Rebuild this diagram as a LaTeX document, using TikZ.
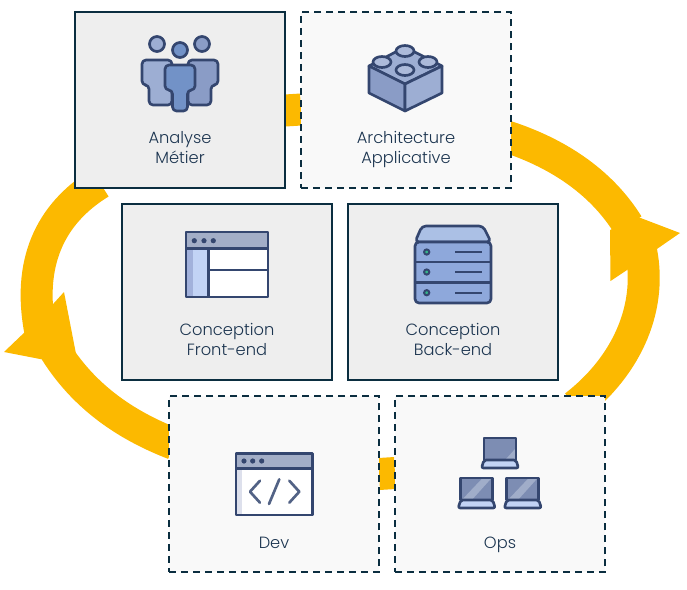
\documentclass[tikz,border=0pt]{standalone}
\usepackage{fontspec}
\setmainfont{Poppins}[UprightFont=* Light]
\usetikzlibrary{
  positioning,
  backgrounds
}
\definecolor{ringyellow}{HTML}{FCB900}
\definecolor{boxline}{HTML}{0B2E40}
\definecolor{boxsolid}{HTML}{EEEEEE}
\definecolor{boxdash}{HTML}{F9F9F9}
\definecolor{iconline}{HTML}{34466F}
\definecolor{labelink}{HTML}{1C3550}
\definecolor{personleft}{HTML}{9DAED3}
\definecolor{personright}{HTML}{8A9CC6}
\definecolor{personmid}{HTML}{7292C7}
\definecolor{barfill}{HTML}{A3AEC7}
\definecolor{sidefill}{HTML}{C2D3F5}
\definecolor{sidedark}{HTML}{A2B1DB}
\definecolor{rackfill}{HTML}{8EA8DB}
\definecolor{racktop}{HTML}{ABC0E5}
\definecolor{screenfill}{HTML}{7D8DB3}
\definecolor{glarefill}{HTML}{A0ADC9}
\definecolor{stripefill}{HTML}{DDE0EC}
\definecolor{ledgreen}{HTML}{35B58A}
\tikzset{
  x=0.75pt,
  y=-0.75pt,
  node distance=12pt,
  phasebox/.style={rectangle, outer sep=0pt, minimum width=157.5pt, minimum height=132pt,
    draw=boxline, line width=1.5pt},
  solidbox/.style={phasebox, fill=boxsolid},
  dashbox/.style={phasebox, fill=boxdash, dash pattern=on 5.6pt off 3.4pt},
  phaselabel/.style={align=center, text=labelink, inner sep=0pt, font=\fontsize{12.2}{15}\selectfont,
    execute at begin node={\strut}, execute at end node={\strut}},
  ringband/.style={draw=ringyellow, line width=24pt},
  ringhead/.style={fill=ringyellow},
  iconstroke/.style={draw=iconline, line width=2pt, line join=round},
  iconsoft/.style={iconstroke, rounded corners=3pt},
  pics/people/.style={code={
    \draw[iconsoft, fill=personleft] (-38,-40) -- (-8,-40) -- (-8,5) -- (-31,5) -- (-31,-15) -- (-38,-15) -- cycle;
    \draw[iconsoft, fill=personright] (38,-40) -- (8,-40) -- (8,5) -- (31,5) -- (31,-15) -- (38,-15) -- cycle;
    \draw[iconsoft, fill=personmid] (-15,-35) -- (15,-35) -- (15,-10) -- (7.5,-10) -- (7.5,11) -- (-7.5,11) -- (-7.5,-10) -- (-15,-10) -- cycle;
    \draw[iconstroke, fill=personleft] (-23,-56) circle (7.5);
    \draw[iconstroke, fill=personright] (22,-56) circle (7.5);
    \draw[iconstroke, fill=personmid] (0,-50) circle (7.5);
  }},
  pics/brick/.style={code={
    \draw[iconstroke, fill=personleft] (-37,-34) -- (-1,-53) -- (36,-34) -- (-1,-16) -- cycle;
    \draw[iconstroke, fill=personright] (-37,-34) -- (-1,-16) -- (-1,11) -- (-37,-7) -- cycle;
    \draw[iconstroke, fill=personleft] (36,-34) -- (-1,-16) -- (-1,11) -- (36,-7) -- cycle;
    \foreach \sx/\sy in {-1/-49, -24/-38, 22/-38, -1/-30}
      \draw[iconstroke, fill=personleft!85!white] (\sx,\sy) ellipse (9 and 5.5);
  }},
  pics/frontwin/.style={code={
    \fill[white] (-41,-43.5) rectangle (41,5);
    \fill[sidefill] (-41,-43.5) rectangle (-18.7,5);
    \fill[sidedark] (-41,-43.5) rectangle (-34,5);
    \fill[barfill] (-41,-60) rectangle (41,-43.5);
    \draw[iconstroke] (-41,-60) rectangle (41,5);
    \draw[iconstroke] (-41,-43.5) -- (41,-43.5);
    \draw[iconstroke] (-18.7,-43.5) -- (-18.7,5);
    \draw[iconstroke] (-18.7,-22) -- (41,-22);
    \foreach \dx in {-32.7,-23,-13.7}
      \fill[iconline] (\dx,-51.3) circle (2.6);
  }},
  pics/rack/.style={code={
    \draw[iconsoft, fill=racktop] (-38,-50) -- (-31,-66) -- (30,-66) -- (38,-50) -- cycle;
    \draw[iconsoft, fill=rackfill] (-38,-50) rectangle (38,11);
    \draw[iconstroke] (-38,-30) -- (38,-30);
    \draw[iconstroke] (-38,-9.7) -- (38,-9.7);
    \foreach \ry in {-40,-20,0.7} {
      \draw[iconline, line width=1.5pt, fill=ledgreen] (-26.3,\ry) circle (2.6);
      \draw[iconline, line width=1.4pt] (2,\ry) -- (29,\ry);
    }
  }},
  pics/codewin/.style={code={
    \fill[white] (-38,-15.7) rectangle (38.7,31);
    \fill[stripefill] (-38,-15.7) rectangle (-32,31);
    \fill[barfill] (-38,-30.7) rectangle (38.7,-15.7);
    \draw[iconstroke] (-38,-30.7) rectangle (38.7,31);
    \draw[iconstroke] (-38,-15.7) -- (38.7,-15.7);
    \foreach \dx in {-30,-21.3,-12.3}
      \fill[iconline] (\dx,-23) circle (2.6);
    \draw[iconline!85!white, line width=2pt, line cap=round, line join=round] (-14,-3.3) -- (-24,7.7) -- (-14,18.7);
    \draw[iconline!85!white, line width=2pt, line cap=round] (5.3,-4.7) -- (-5,20);
    \draw[iconline!85!white, line width=2pt, line cap=round, line join=round] (15.3,-3.3) -- (25.3,7.7) -- (15.3,18.7);
  }},
  pics/laptop/.style={code={
    \fill[screenfill] (-16,-22) rectangle (16,0);
    \fill[glarefill] #1;
    \draw[iconstroke] (-16,-22) rectangle (16,0);
    \draw[iconstroke, rounded corners=1.5pt, fill=sidefill] (-16,0) -- (16,0) -- (18.5,8) -- (-18.5,8) -- cycle;
  }}
}
\begin{document}
\begin{tikzpicture}
    \useasboundingbox (0,0) rectangle (687,590);
    \node[solidbox] (analyse) at (180,100) {};
    \node[dashbox, right=of analyse] (archi) {};
    \node[solidbox] (front) at (227,292) {};
    \node[solidbox, right=of front] (back) {};
    \node[dashbox] (dev) at (274,484) {};
    \node[dashbox, right=of dev] (ops) {};

    \begin{scope}[on background layer]
      \draw[ringband] ([shift={(0,10.5)}]analyse.east) -- ([shift={(0,9.5)}]archi.west);
      \draw[ringband] ([shift={(0,-10)}]dev.east) -- ([shift={(0,-11)}]ops.west);
      \draw[ringband] ([shift={(-6,36)}]archi.east) .. controls (555,152) and (600,180) .. (628,225);
      \draw[ringband] (640,246) .. controls (654,305) and (628,365) .. ([shift={(-30,10)}]ops.north east);
      \draw[ringband] ([shift={(-80,-5)}]analyse.south) .. controls (48,215) and (28,265) .. (40,330);
      \draw[ringband] (50,342) .. controls (80,395) and (125,425) .. ([shift={(5,-40)}]dev.west);
      \fill[ringhead] (638,217) -- (680,233) -- (654,251) -- (627,270) -- (610.5,281) -- (610,230) -- cycle;
      \fill[ringhead] (27,330) -- (4,352) -- (40,359) -- (77,359) -- (64,292) -- (54,303) -- cycle;
    \end{scope}

    \pic at (analyse) {people};
    \pic at (archi) {brick};
    \pic at (front) {frontwin};
    \pic at (back) {rack};
    \pic at (dev) {codewin};
    \pic at (500,460) {laptop={(6,-1) -- (15,-11) -- (15,-1) -- cycle}};
    \pic at (476.7,500) {laptop={(-14,-1) -- (5,-21) -- (14,-21) -- (-4,-1) -- cycle}};
    \pic at (522.8,500) {laptop={(-14,-1) -- (5,-21) -- (14,-21) -- (-4,-1) -- cycle}};

    \node[phaselabel] (analysetext) at ([shift={(0,50.5)}]analyse) {Analyse\\Métier};
    \node[phaselabel] (architext) at ([shift={(0,50.5)}]archi) {Architecture\\Applicative};
    \node[phaselabel] (fronttext) at ([shift={(0,50.5)}]front) {Conception\\Front-end};
    \node[phaselabel] (backtext) at ([shift={(0,50.5)}]back) {Conception\\Back-end};
    \node[phaselabel] (devtext) at ([shift={(0,60)}]dev) {Dev};
    \node[phaselabel] (opstext) at ([shift={(0,60)}]ops) {Ops};
\end{tikzpicture}
\end{document}
